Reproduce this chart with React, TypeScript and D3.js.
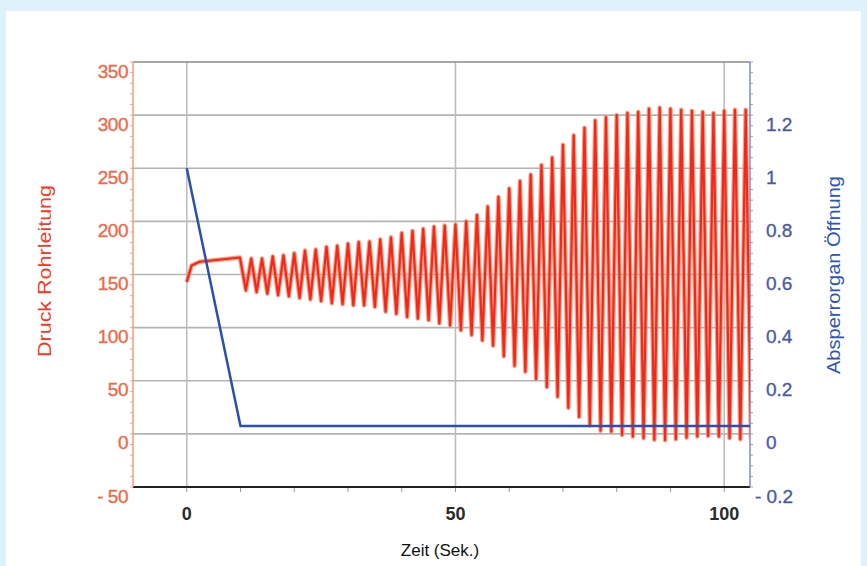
import React, { Component } from 'react';
import * as d3 from 'd3';

// Zeitachse (Sekunden)
const zeitTicks = [0, 50, 100];
const zeitMinorTicks = [0, 10, 20, 30, 40, 50, 60, 70, 80, 90, 100];

// linke Achse: Druck Rohrleitung
const druckTicks = [-50, 0, 50, 100, 150, 200, 250, 300, 350];
const druckTickLabels = ['- 50', '0', '50', '100', '150', '200', '250', '300', '350'];

// rechte Achse: Absperrorgan Öffnung
const oeffnungTicks = [-0.2, 0, 0.2, 0.4, 0.6, 0.8, 1, 1.2];
const oeffnungTickLabels = ['- 0.2', '0', '0.2', '0.4', '0.6', '0.8', '1', '1.2'];

// Ventilöffnung über der Zeit
const ventilZeit = [0, 10, 104.8];
const ventilOeffnung = [1, 0.03, 0.03];

// Druckverlauf (Anfang, dann Täler und Spitzen)
const druckZeit = [
    0, 0.9, 2.4, 9.9,
    11, 12, 13, 14, 15, 16, 17, 18, 19, 20,
    21, 22, 23, 24, 25, 26, 27, 28, 29, 30,
    31, 32, 33, 34, 35, 36, 37, 38, 39, 40,
    41, 42, 43, 44, 45, 46, 47, 48, 49, 50,
    51, 52, 53, 54, 55, 56, 57, 58, 59, 60,
    61, 62, 63, 64, 65, 66, 67, 68, 69, 70,
    71, 72, 73, 74, 75, 76, 77, 78, 79, 80,
    81, 82, 83, 84, 85, 86, 87, 88, 89, 90,
    91, 92, 93, 94, 95, 96, 97, 98, 99, 100,
    101, 102, 103, 104, 105
];
const druckWerte = [
    143, 158.5, 162, 166,
    135, 165, 133.5, 165, 132, 167, 130.5, 168, 129.5, 170,
    128, 172.5, 126.5, 173.5, 125, 176, 123, 177, 122, 179,
    121, 180.5, 121, 181, 119.5, 183, 115, 185, 113, 189,
    110, 191, 108.5, 193, 107, 195, 104, 196, 102, 197,
    97.5, 200, 93, 206, 88, 214, 83, 223, 73, 231,
    64, 238, 58.5, 244, 51.5, 253, 44, 260, 35, 272,
    24.5, 281, 16, 288, 8, 295, 3, 298, 2, 300,
    -1, 302, -2.5, 303, -4, 306, -5.5, 307, -6, 306,
    -5, 305, -3.5, 304, -2.5, 303, -2, 302, -2.5, 304,
    -4, 305, -5, 305, -5
];

const FONT = '"Liberation Sans", Arial, Helvetica, sans-serif';

class Chart extends Component {
    render() {
        let width = 867,
            height = 566,
            left = 133,
            right = 750,
            top = 62,
            bottom = 487;

        let x = d3.scaleLinear().domain([-10, 104.8]).range([left, right]);
        let yDruck = d3.scaleLinear().domain([-50, 350]).range([bottom, top]);
        let yOeffnung = d3.scaleLinear().domain([-0.2, 1.4]).range([bottom, top]);

        let druckLine = d3.line()
            .x(d => x(d[0]))
            .y(d => yDruck(d[1]));
        let ventilLine = d3.line()
            .x(d => x(d[0]))
            .y(d => yOeffnung(d[1]));

        let druckPunkte = druckZeit.map((t, i) => [t, druckWerte[i]]);
        let ventilPunkte = ventilZeit.map((t, i) => [t, ventilOeffnung[i]]);

        let druckMinor = d3.range(-50, 351, 10);
        let oeffnungMinor = d3.range(-0.2, 1.401, 0.04);

        return (
            <svg width={width} height={height}
                 style={{ position: 'absolute', left: 0, top: 0, display: 'block' }}>
                <rect x={0} y={0} width={width} height={height} fill="#dff1fa" />
                <rect x={6} y={11} width={855} height={height - 11} fill="#ffffff" />

                <defs>
                    <clipPath id="plotClip">
                        <rect x={left} y={top - 5} width={right - left} height={bottom - top + 5} />
                    </clipPath>
                </defs>

                {/* horizontal grid */}
                {druckTicks.filter(d => d >= 0 && d < 350).map((d, i) =>
                    <line key={'h' + i} x1={left} x2={right} y1={yDruck(d)} y2={yDruck(d)}
                          stroke="#b4b4b4" strokeWidth={1.6} />
                )}
                {/* vertical grid */}
                {zeitTicks.map((d, i) =>
                    <line key={'v' + i} x1={x(d)} x2={x(d)} y1={top} y2={bottom}
                          stroke="#bdbdbd" strokeWidth={1.6} />
                )}
                {/* top border */}
                <line x1={left} x2={right} y1={top} y2={top} stroke="#8a8a8a" strokeWidth={1.5} />

                {/* bottom axis */}
                {zeitMinorTicks.map((d, i) =>
                    <line key={'xm' + i} x1={x(d)} x2={x(d)} y1={bottom} y2={bottom + 5}
                          stroke="#9a9a9a" strokeWidth={1} />
                )}
                <line x1={left} x2={right} y1={bottom} y2={bottom} stroke="#222" strokeWidth={2} />
                {zeitTicks.map((d, i) =>
                    <text key={'xl' + i} x={x(d)} y={520} textAnchor="middle"
                          fontFamily={FONT} fontSize={18} fontWeight="bold" fill="#2a2a2a">{d}</text>
                )}
                <text x={440} y={556} textAnchor="middle" fontFamily={FONT} fontSize={17} fill="#111">
                    Zeit (Sek.)
                </text>

                {/* left axis */}
                {druckMinor.map((d, i) =>
                    <line key={'lm' + i} x1={left - 3} x2={left} y1={yDruck(d)} y2={yDruck(d)}
                          stroke="#f4a48e" strokeWidth={1} />
                )}
                <line x1={left} x2={left} y1={top} y2={bottom} stroke="#f39a82" strokeWidth={1.5} />
                {druckTicks.map((d, i) =>
                    <text key={'ll' + i} x={128} y={yDruck(d) + 15.5} textAnchor="end"
                          fontFamily={FONT} fontSize={19} letterSpacing={-0.5} fill="#f26846"
                          stroke="#f26846" strokeWidth={0.35}>{druckTickLabels[i]}</text>
                )}
                <text transform={'translate(51,271) rotate(-90)'} textAnchor="middle"
                      fontFamily={FONT} fontSize={19} fill="#f23a26"
                      textLength={172} lengthAdjust="spacingAndGlyphs">Druck Rohrleitung</text>

                {/* right axis */}
                {oeffnungMinor.map((d, i) =>
                    <line key={'rm' + i} x1={right} x2={right + 3} y1={yOeffnung(d)} y2={yOeffnung(d)}
                          stroke="#9aa0d2" strokeWidth={1} />
                )}
                <line x1={right} x2={right} y1={top} y2={bottom} stroke="#8088c8" strokeWidth={1.5} />
                {oeffnungTicks.map((d, i) =>
                    <text key={'rl' + i} x={d < 0 ? 755 : 766} y={yOeffnung(d) + 15.5} textAnchor="start"
                          fontFamily={FONT} fontSize={19} fill="#4c5aa6"
                          stroke="#4c5aa6" strokeWidth={0.35}>{oeffnungTickLabels[i]}</text>
                )}
                <text transform={'translate(840,275) rotate(-90)'} textAnchor="middle"
                      fontFamily={FONT} fontSize={19} fill="#2f55b5"
                      textLength={198} lengthAdjust="spacingAndGlyphs">Absperrorgan Öffnung</text>

                {/* data */}
                <g clipPath="url(#plotClip)">
                    <path d={druckLine(druckPunkte)} fill="none" stroke="#f58a6c" strokeWidth={4.5}
                          strokeOpacity={0.8} strokeLinejoin="round" />
                    <path d={druckLine(druckPunkte)} fill="none" stroke="#f2281a" strokeWidth={2.2}
                          strokeLinejoin="round" />
                    <path d={ventilLine(ventilPunkte)} fill="none" stroke="#2b4fae" strokeWidth={2.5} />
                </g>
            </svg>
        );
    }
}

export default function App() {
    return <Chart />;
}
